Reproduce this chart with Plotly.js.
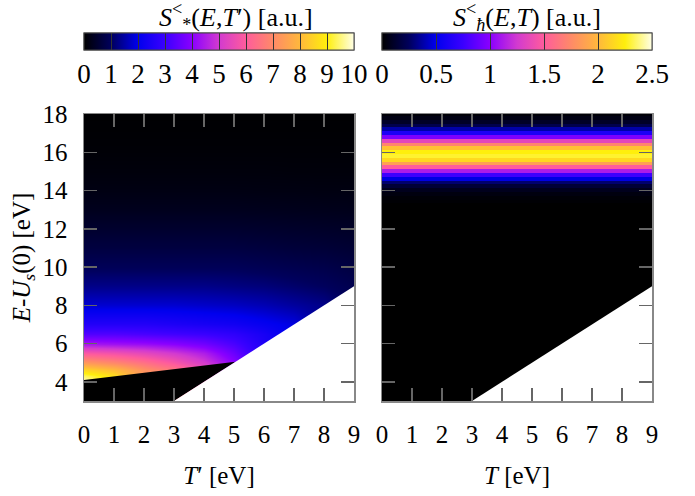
<!DOCTYPE html>
<html>
<head>
<meta charset="utf-8">
<script src="https://cdn.plot.ly/plotly-3.0.1.min.js"></script>
<style>html,body{margin:0;padding:0;background:#fff;}</style>
</head>
<body>
<div id="chart" style="width:695px;height:496px;"></div>
<script>
// ---------- data ----------
// Left panel: S*(E,T') on a (E x T') grid
const T_grid = [0, 1, 2, 3, 4, 5, 6, 7, 8, 9];
const E_grid = [3, 4.0, 4.3, 4.6, 5.0, 5.5, 6.0, 6.5, 7.0, 8.0, 9.0, 10, 11, 12, 13, 14, 15, 16, 17, 18];
const s_star = [
  [9.9, 8.7, 7.2, 6.6, 5.6, 4.0, 2.5, 1.9, 1.3, 0.9],
  [9.9, 8.7, 7.2, 6.6, 5.6, 4.0, 2.5, 1.9, 1.3, 0.9],
  [9.4, 8.7, 7.2, 6.6, 5.6, 4.0, 2.5, 1.9, 1.3, 0.9],
  [8.6, 8.1, 7.2, 6.6, 5.6, 4.0, 2.5, 1.9, 1.3, 0.9],
  [7.4, 7.0, 6.5, 5.9, 5.1, 4.0, 2.5, 1.9, 1.3, 0.9],
  [5.9, 5.7, 5.4, 5.0, 4.5, 3.6, 2.5, 1.9, 1.3, 0.9],
  [4.4, 4.3, 4.2, 4.0, 3.7, 3.2, 2.5, 1.9, 1.3, 0.9],
  [3.3, 3.3, 3.2, 3.1, 3.0, 2.8, 2.4, 1.9, 1.3, 0.9],
  [2.6, 2.6, 2.6, 2.5, 2.4, 2.3, 2.1, 1.9, 1.3, 0.9],
  [1.8, 1.8, 1.8, 1.8, 1.75, 1.7, 1.6, 1.45, 1.3, 0.9],
  [1.3, 1.3, 1.3, 1.3, 1.3, 1.25, 1.2, 1.1, 1.0, 0.85],
  [0.95, 0.95, 0.95, 0.95, 0.95, 0.95, 0.9, 0.85, 0.8, 0.7],
  [0.7, 0.7, 0.7, 0.7, 0.7, 0.7, 0.67, 0.63, 0.6, 0.55],
  [0.5, 0.5, 0.5, 0.5, 0.5, 0.5, 0.48, 0.46, 0.44, 0.42],
  [0.32, 0.32, 0.32, 0.32, 0.32, 0.32, 0.31, 0.3, 0.29, 0.28],
  [0.2, 0.2, 0.2, 0.2, 0.2, 0.2, 0.19, 0.19, 0.18, 0.18],
  [0.12, 0.12, 0.12, 0.12, 0.12, 0.12, 0.12, 0.11, 0.11, 0.11],
  [0.07, 0.07, 0.07, 0.07, 0.07, 0.07, 0.07, 0.07, 0.07, 0.07],
  [0.04, 0.04, 0.04, 0.04, 0.04, 0.04, 0.04, 0.04, 0.04, 0.04],
  [0.02, 0.02, 0.02, 0.02, 0.02, 0.02, 0.02, 0.02, 0.02, 0.02]
];
// Right panel: S_h(E,T), independent of T
const sh_E = [13.0, 13.2, 13.4, 13.6, 13.8, 14.0, 14.2, 14.4, 14.6, 14.8, 15.0, 15.2, 15.4,
              15.6, 15.8, 16.0, 16.2, 16.4, 16.6, 16.8, 17.0, 17.2, 17.4, 17.6, 17.8, 18.0];
const sh_vals = [0.00, 0.00, 0.01, 0.02, 0.04, 0.08, 0.15, 0.28, 0.48, 0.76, 1.12, 1.50, 1.87,
                 2.15, 2.29, 2.25, 2.04, 1.72, 1.34, 0.96, 0.62, 0.38, 0.21, 0.11, 0.05, 0.02];
// Region boundaries
const onsetT = [-0.5, 5.05];   // onset of S* (black below)
const onsetE = [4.0, 5.05];
const cutT = [2.5, 9.5];       // kinematic limit E = T (white below)
const cutE = [2.5, 9.5];
// Colour-bar ticks
const cb1Ticks = [0, 1, 2, 3, 4, 5, 6, 7, 8, 9, 10];
const cb2Ticks = [0, 0.5, 1, 1.5, 2, 2.5];
const cb2Text = ['0', '0.5', '1', '1.5', '2', '2.5'];
const xTicks = [0, 1, 2, 3, 4, 5, 6, 7, 8, 9];
const yTicks = [4, 6, 8, 10, 12, 14, 16, 18];

// ---------- style ----------
const FONT = 'Liberation Serif';
const FS = 25;     // axis ticks and titles
const FS_CB = 27;  // colour-bar tick labels
const FS_T = 26;   // colour-bar titles
const cscale = [
  [0.0, '#000000'], [0.1, '#00005c'], [0.2, '#0000ee'], [0.3, '#3a00ff'],
  [0.4, '#8a00ff'], [0.5, '#d23ad0'], [0.6, '#ff5c9c'], [0.7, '#ff8a68'],
  [0.8, '#ffb83c'], [0.9, '#ffef0c'], [1.0, '#ffffe6']
];
const W = 568, H = 287; // plot area in px
const cbY = 1 + 81 / H;

function cbLabels(x, tickvals, ticktext) {
  return {orientation: 'h', x: x, xanchor: 'left', xref: 'paper', len: 270, lenmode: 'pixels',
    thickness: 17, thicknessmode: 'pixels', y: cbY, yanchor: 'top', yref: 'paper',
    xpad: 0, ypad: 0, outlinewidth: 1, outlinecolor: '#444',
    ticks: 'outside', ticklen: 1, tickcolor: 'rgba(0,0,0,0)',
    tickmode: 'array', tickvals: tickvals, ticktext: ticktext,
    tickfont: {family: FONT, size: FS_CB, color: '#000'}};
}
function cbDividers(x, tickvals) {
  return {orientation: 'h', x: x, xanchor: 'left', xref: 'paper', len: 270, lenmode: 'pixels',
    thickness: 17, thicknessmode: 'pixels', y: cbY, yanchor: 'top', yref: 'paper',
    xpad: 0, ypad: 0, outlinewidth: 1, outlinecolor: '#444',
    ticks: 'inside', ticklen: 17, tickcolor: '#333', tickwidth: 1,
    tickmode: 'array', tickvals: tickvals, showticklabels: false};
}

const x2start = 298 / W;
const zRight = sh_vals.map(v => T_grid.map(() => v));

const traces = [
  {type: 'heatmap', x: T_grid, y: E_grid, z: s_star, zsmooth: 'best', colorscale: cscale,
   zmin: 0, zmax: 10, xaxis: 'x', yaxis: 'y', hoverinfo: 'skip',
   colorbar: cbLabels(0, cb1Ticks, cb1Ticks.map(String))},
  {type: 'heatmap', x: T_grid, y: E_grid, z: s_star, zsmooth: 'best', colorscale: cscale,
   zmin: 0, zmax: 10, xaxis: 'x', yaxis: 'y', hoverinfo: 'skip', opacity: 0,
   colorbar: cbDividers(0, cb1Ticks)},
  {type: 'scatter', mode: 'lines', x: [onsetT[0], onsetT[0], onsetT[1], cutT[0]],
   y: [cutE[0], onsetE[0], onsetE[1], cutE[0]], fill: 'toself', fillcolor: '#000000',
   line: {width: 0, color: '#000'}, xaxis: 'x', yaxis: 'y', hoverinfo: 'skip'},
  {type: 'scatter', mode: 'lines', x: [cutT[0], cutT[1], cutT[1]], y: [cutE[0], cutE[1], cutE[0]],
   fill: 'toself', fillcolor: '#ffffff', line: {width: 0, color: '#fff'},
   xaxis: 'x', yaxis: 'y', hoverinfo: 'skip'},

  {type: 'heatmap', x: T_grid, y: sh_E, z: zRight, zsmooth: false, colorscale: cscale,
   zmin: 0, zmax: 2.5, xaxis: 'x2', yaxis: 'y2', hoverinfo: 'skip',
   colorbar: cbLabels(x2start, cb2Ticks, cb2Text)},
  {type: 'heatmap', x: T_grid, y: sh_E, z: zRight, zsmooth: false, colorscale: cscale,
   zmin: 0, zmax: 2.5, xaxis: 'x2', yaxis: 'y2', hoverinfo: 'skip', opacity: 0,
   colorbar: cbDividers(x2start, cb2Ticks)},
  {type: 'scatter', mode: 'lines', x: [cutT[0], cutT[1], cutT[1]], y: [cutE[0], cutE[1], cutE[0]],
   fill: 'toself', fillcolor: '#ffffff', line: {width: 0, color: '#fff'},
   xaxis: 'x2', yaxis: 'y2', hoverinfo: 'skip'}
];

const axisCommon = {
  showline: true, linecolor: '#888', linewidth: 1.5, mirror: 'allticks',
  ticks: 'inside', ticklen: 13, tickwidth: 1.5, tickcolor: '#666',
  showgrid: false, zeroline: false, tickmode: 'array',
  tickfont: {family: FONT, size: FS, color: '#000'}, automargin: false
};

const layout = {
  width: 695, height: 496,
  margin: {l: 84, r: 43, t: 114, b: 95},
  paper_bgcolor: '#ffffff', plot_bgcolor: '#000000',
  showlegend: false,
  font: {family: FONT, size: FS, color: '#000'},
  xaxis: Object.assign({}, axisCommon, {domain: [0, 270 / W], range: [0, 9], tickvals: xTicks,
    anchor: 'y', ticklabelstandoff: 10,
    title: {text: '<i>T</i>′ [eV]', standoff: 20, font: {family: FONT, size: FS, color: '#000'}}}),
  yaxis: Object.assign({}, axisCommon, {domain: [0, 1], range: [3, 18], tickvals: yTicks,
    anchor: 'x', ticklabelstandoff: 10,
    title: {text: '<i>E</i>-<i>U</i><sub><i>s</i></sub>(0) [eV]', standoff: 5,
      font: {family: FONT, size: FS, color: '#000'}}}),
  xaxis2: Object.assign({}, axisCommon, {domain: [x2start, 1], range: [0, 9], tickvals: xTicks,
    anchor: 'y2', ticklabelstandoff: 10,
    title: {text: '<i>T</i> [eV]', standoff: 20, font: {family: FONT, size: FS, color: '#000'}}}),
  yaxis2: Object.assign({}, axisCommon, {domain: [0, 1], range: [3, 18], tickvals: yTicks,
    anchor: 'x2', showticklabels: false}),
  annotations: [
    {xref: 'paper', yref: 'paper', x: (236 - 84) / W, y: 1 + 97 / H, xanchor: 'center', yanchor: 'middle',
     showarrow: false, font: {family: FONT, size: FS_T, color: '#000'},
     text: '<i>S</i><sup>&lt;</sup><sub>*</sub>(<i>E</i>,<i>T</i>′) [a.u.]'},
    {xref: 'paper', yref: 'paper', x: (527 - 84) / W, y: 1 + 97 / H, xanchor: 'center', yanchor: 'middle',
     showarrow: false, font: {family: FONT, size: FS_T, color: '#000'},
     text: '<i>S</i><sup>&lt;</sup><sub><i>ħ</i></sub>(<i>E</i>,<i>T</i>) [a.u.]'}
  ]
};

Plotly.newPlot('chart', traces, layout, {displayModeBar: false, staticPlot: true});
</script>
</body>
</html>
